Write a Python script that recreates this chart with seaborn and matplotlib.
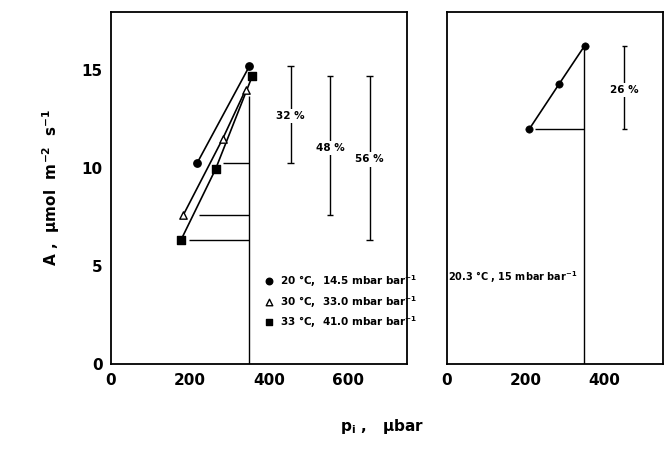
import numpy as np
import pandas as pd
import matplotlib
matplotlib.use("Agg")
import matplotlib.pyplot as plt
import seaborn as sns

# Left panel: three temperature / O2 conditions
series_labels = [r"20 °C,  14.5 mbar bar$^{-1}$",
                 r"30 °C,  33.0 mbar bar$^{-1}$",
                 r"33 °C,  41.0 mbar bar$^{-1}$"]
series_markers = ["o", "^", "s"]
pi_20 = [218, 351]
a_20 = [10.25, 15.22]
pi_30 = [183, 283, 341]
a_30 = [7.6, 11.5, 14.0]
pi_33 = [178, 265, 358]
a_33 = [6.36, 9.95, 14.7]
hline_start = [284, 222, 197]

# range bars (low, high) and their percent labels
bar_x = [455, 555, 655]
bar_low = [10.28, 7.6, 6.36]
bar_high = [15.22, 14.7, 14.7]
bar_text = ["32 %", "48 %", "56 %"]
bar_text_y = [12.65, 11.05, 10.45]

# Right panel: one condition
pi_r = [210, 286, 351]
a_r = [12.0, 14.3, 16.25]
bar_r_x = [452]
bar_r_low = [12.0]
bar_r_high = [16.22]
bar_r_text = ["26 %"]
bar_r_text_y = [14.0]

sns.set_style("white")
plt.rcParams["font.family"] = ["DejaVu Sans"]
plt.rcParams["font.weight"] = "bold"
plt.rcParams["text.color"] = "black"
plt.rcParams["axes.labelcolor"] = "black"

fig = plt.figure(figsize=(6.64, 4.61), dpi=100)
ax1 = fig.add_axes([0.167, 0.21, 0.446, 0.765])
ax2 = fig.add_axes([0.673, 0.21, 0.325, 0.765])

left = pd.DataFrame({
    "pi": pi_20 + pi_30 + pi_33,
    "A": a_20 + a_30 + a_33,
    "cond": [series_labels[0]] * len(pi_20) + [series_labels[1]] * len(pi_30)
            + [series_labels[2]] * len(pi_33),
})

for lab, mk in zip(series_labels, series_markers):
    d = left[left["cond"] == lab]
    sns.lineplot(data=d, x="pi", y="A", ax=ax1, color="black", lw=1.2,
                 sort=False, estimator=None)
    face = "white" if mk == "^" else "black"
    sns.scatterplot(data=d, x="pi", y="A", ax=ax1, marker=mk, s=28,
                    color=face, edgecolor="black", linewidth=1.0, zorder=5)

# horizontal reference lines to pi = 350 and the vertical at 350
for x0, ys in zip(hline_start, [a_20, a_30, a_33]):
    ax1.hlines(ys[0], x0, 350, color="black", lw=1.0)
ax1.vlines(350, 0, 13.7, color="black", lw=1.0)

ax1.vlines(bar_x, bar_low, bar_high, color="black", lw=1.0)
ax1.hlines(bar_low, np.array(bar_x) - 8, np.array(bar_x) + 8, color="black", lw=1.0)
ax1.hlines(bar_high, np.array(bar_x) - 8, np.array(bar_x) + 8, color="black", lw=1.0)
for bx, by, bt in zip(bar_x, bar_text_y, bar_text):
    ax1.text(bx, by, bt, ha="center", va="center", fontsize=7.5,
             bbox=dict(facecolor="white", edgecolor="none", pad=1.5))

# legend drawn as text rows
leg_y = [4.25, 3.18, 2.16]
for ly, lab, mk in zip(leg_y, series_labels, series_markers):
    face = "white" if mk == "^" else "black"
    ax1.scatter([400], [ly], marker=mk, s=22, color=face, edgecolor="black", lw=1.0)
    ax1.text(428, ly, lab, ha="left", va="center", fontsize=7.5)

ax1.set_xlim(0, 750)
ax1.set_ylim(0, 18)
ax1.set_xticks([0, 200, 400, 600])
ax1.set_xticks([100, 300, 500, 700], minor=True)
ax1.set_yticks([0, 5, 10, 15])
ax1.set_xlabel("")
ax1.set_ylabel(r"A ,  $\mathbf{\mu}$mol  m$^{-2}$  s$^{-1}$", fontsize=11,
               fontweight="bold", labelpad=14)

# right panel
right = pd.DataFrame({"pi": pi_r, "A": a_r})
sns.lineplot(data=right, x="pi", y="A", ax=ax2, color="black", lw=1.2,
             sort=False, estimator=None)
sns.scatterplot(data=right, x="pi", y="A", ax=ax2, marker="o", s=28,
                color="black", edgecolor="black", zorder=5)
ax2.hlines(a_r[0], pi_r[0] + 15, 350, color="black", lw=1.0)
ax2.vlines(350, 0, a_r[-1], color="black", lw=1.0)
ax2.vlines(bar_r_x, bar_r_low, bar_r_high, color="black", lw=1.0)
ax2.hlines(bar_r_low, np.array(bar_r_x) - 6, np.array(bar_r_x) + 6, color="black", lw=1.0)
ax2.hlines(bar_r_high, np.array(bar_r_x) - 6, np.array(bar_r_x) + 6, color="black", lw=1.0)
for bx, by, bt in zip(bar_r_x, bar_r_text_y, bar_r_text):
    ax2.text(bx, by, bt, ha="center", va="center", fontsize=7.5,
             bbox=dict(facecolor="white", edgecolor="none", pad=1.5))
ax2.text(3, 4.45, r"20.3 °C , 15 mbar bar$^{-1}$", ha="left", va="center", fontsize=7)

ax2.set_xlim(0, 550)
ax2.set_ylim(0, 18)
ax2.set_xticks([0, 200, 400])
ax2.set_xticks([100, 300, 500], minor=True)
ax2.set_yticks([0, 5, 10, 15])
ax2.set_yticklabels([])
ax2.set_xlabel("")
ax2.set_ylabel("")

for ax in (ax1, ax2):
    for sp in ax.spines.values():
        sp.set_color("black")
        sp.set_linewidth(1.3)
    ax.tick_params(which="both", direction="in", length=6, width=1.2,
                   labelsize=11, colors="black", pad=6)
    for t in ax.get_xticklabels() + ax.get_yticklabels():
        t.set_fontweight("bold")

fig.text(0.575, 0.075, r"p$_\mathbf{i}$ ,   $\mathbf{\mu}$bar", ha="center",
         va="center", fontsize=11, fontweight="bold")

fig.savefig("out.png", dpi=100)
